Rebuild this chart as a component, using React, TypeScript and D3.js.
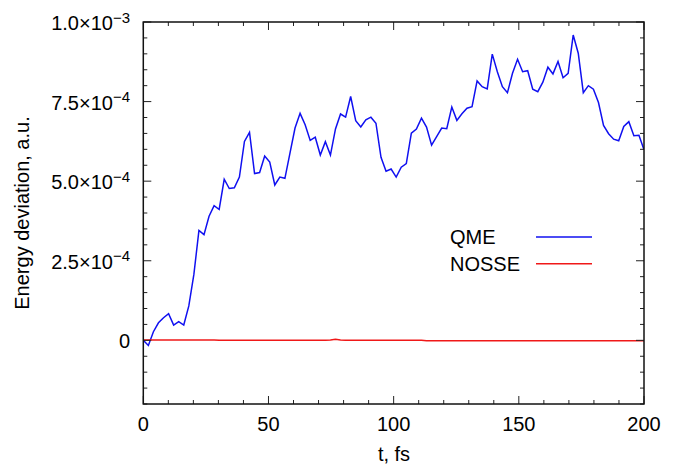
import React from "react";
import * as d3 from "d3";

// Values in units of 1e-4 a.u.
const VALUE_UNIT = 1e-4;
const T_END = 200;

const qmeValues = [
  0.0, -0.16, 0.27, 0.55, 0.71, 0.84, 0.48, 0.59, 0.48, 1.08,
  2.07, 3.45, 3.32, 3.9, 4.23, 4.11, 5.06, 4.77, 4.79, 5.13,
  6.25, 6.53, 5.24, 5.27, 5.79, 5.6, 4.88, 5.13, 5.09, 5.88,
  6.67, 7.13, 6.77, 6.28, 6.38, 5.82, 6.24, 5.82, 6.64, 7.11,
  7.01, 7.66, 6.9, 6.7, 6.93, 7.01, 6.82, 5.75, 5.31, 5.38,
  5.13, 5.44, 5.55, 6.51, 6.64, 6.98, 6.7, 6.13, 6.4, 6.67,
  6.65, 7.33, 6.91, 7.12, 7.29, 7.34, 8.15, 7.97, 7.9, 8.99,
  8.44, 7.97, 7.78, 8.39, 8.83, 8.44, 8.47, 7.89, 7.81, 8.11,
  8.58, 8.37, 8.76, 8.25, 8.39, 9.59, 9.02, 7.78, 8.0, 7.89,
  7.47, 6.75, 6.49, 6.32, 6.27, 6.72, 6.87, 6.43, 6.44, 5.99,
];

const nosseValues = [
  0.01, 0.01, 0.01, 0.01, 0.01, 0.01, 0.01, 0.01, 0.01, 0.01,
  0.01, 0.01, 0.01, 0.01, 0.01, 0.0, 0.0, 0.0, 0.0, 0.0,
  0.0, 0.0, 0.0, 0.0, 0.0, 0.0, 0.0, 0.0, 0.0, 0.0,
  0.0, 0.0, 0.0, 0.0, 0.0, 0.0, 0.0, 0.01, 0.03, 0.01,
  0.0, 0.0, 0.0, 0.0, 0.0, 0.0, 0.0, 0.0, 0.0, 0.0,
  0.0, 0.0, 0.0, 0.0, 0.0, 0.0, -0.01, -0.01, -0.01, -0.01,
  -0.01, -0.01, -0.01, -0.01, -0.01, -0.01, -0.01, -0.01, -0.01, -0.01,
  -0.01, -0.01, -0.01, -0.01, -0.01, -0.01, -0.01, -0.01, -0.01, -0.01,
  -0.01, -0.01, -0.01, -0.01, -0.01, -0.01, -0.01, -0.01, -0.01, -0.01,
  -0.01, -0.01, -0.01, -0.01, -0.01, -0.01, -0.01, -0.01, -0.01, -0.01,
];

const xMajorTicks = [0, 50, 100, 150, 200];
const xMinorStep = 10;
const yMajorTicks = [0, 2.5, 5.0, 7.5, 10.0];
const yMajorLabels = [
  { mant: "0", exp: "" },
  { mant: "2.5×10", exp: "−4" },
  { mant: "5.0×10", exp: "−4" },
  { mant: "7.5×10", exp: "−4" },
  { mant: "1.0×10", exp: "−3" },
];
const yMinorStep = 0.5;
const yDomain = [-2, 10];

const series = [
  { name: "QME", values: qmeValues, color: "#1010f0" },
  { name: "NOSSE", values: nosseValues, color: "#f01818" },
];

const W = 680;
const H = 466;
const left = 143.3;
const right = 644;
const top = 22;
const bottom = 404;
const FONT = "'Liberation Sans', Arial, Helvetica, sans-serif";
const FS = 20;

export default function App() {
  const x = d3.scaleLinear().domain([0, T_END]).range([left, right]);
  const y = d3
    .scaleLinear()
    .domain([yDomain[0] * VALUE_UNIT, yDomain[1] * VALUE_UNIT])
    .range([bottom, top]);

  const n = qmeValues.length;
  const times = qmeValues.map((_, i) => (i * T_END) / (n - 1));

  const line = d3
    .line<number>()
    .x((_, i) => x(times[i]))
    .y((v) => y(v * VALUE_UNIT));

  const xMinor = d3.range(0, T_END + 0.001, xMinorStep);
  const yMinor = d3.range(yDomain[0], yDomain[1] + 0.001, yMinorStep);
  const isXMajor = (t: number) => xMajorTicks.some((m) => Math.abs(m - t) < 1e-6);
  const isYMajor = (v: number) => yMajorTicks.some((m) => Math.abs(m - v) < 1e-6);

  const majorLen = 8;
  const minorLen = 4;
  const tickColor = "#222";

  return (
    <svg
      width={W}
      height={H}
      style={{ position: "fixed", left: 0, top: 0, background: "#fff" }}
      fontFamily={FONT}
    >
      <rect x={0} y={0} width={W} height={H} fill="#fff" />
      <defs>
        <clipPath id="plotclip">
          <rect x={left} y={top} width={right - left} height={bottom - top} />
        </clipPath>
      </defs>
      <g clipPath="url(#plotclip)">
        {series.map((s) => (
          <path
            key={s.name}
            d={line(s.values) || ""}
            fill="none"
            stroke={s.color}
            strokeWidth={1.5}
          />
        ))}
      </g>

      {xMinor.map((t) => {
        const len = isXMajor(t) ? majorLen : minorLen;
        const px = x(t);
        return (
          <g key={"xt" + t} stroke={tickColor} strokeWidth={1}>
            <line x1={px} x2={px} y1={bottom} y2={bottom - len} />
            <line x1={px} x2={px} y1={top} y2={top + len} />
          </g>
        );
      })}
      {yMinor.map((v) => {
        const len = isYMajor(v) ? majorLen : minorLen;
        const py = y(v * VALUE_UNIT);
        return (
          <g key={"yt" + v} stroke={tickColor} strokeWidth={1}>
            <line x1={left} x2={left + len} y1={py} y2={py} />
            <line x1={right} x2={right - len} y1={py} y2={py} />
          </g>
        );
      })}

      <rect
        x={left}
        y={top}
        width={right - left}
        height={bottom - top}
        fill="none"
        stroke="#111"
        strokeWidth={1.5}
      />

      {xMajorTicks.map((t) => (
        <text
          key={"xl" + t}
          x={x(t)}
          y={424}
          textAnchor="middle"
          dominantBaseline="central"
          fontSize={FS}
          fill="#000"
        >
          {t}
        </text>
      ))}

      {yMajorTicks.map((v, i) => {
        const lab = yMajorLabels[i];
        const py = y(v * VALUE_UNIT);
        return (
          <text
            key={"yl" + v}
            x={130}
            y={py + 8}
            textAnchor="end"
            fontSize={FS}
            fill="#000"
          >
            {lab.mant}
            {lab.exp ? (
              <tspan fontSize={15} dy={-7.5}>
                {lab.exp}
              </tspan>
            ) : null}
          </text>
        );
      })}

      <text
        x={394}
        y={461}
        textAnchor="middle"
        fontSize={FS}
        fill="#000"
      >
        t, fs
      </text>
      <text
        transform="translate(22,213) rotate(-90)"
        textAnchor="middle"
        dominantBaseline="central"
        fontSize={FS}
        fill="#000"
      >
        Energy deviation, a.u.
      </text>

      {series.map((s, i) => {
        const ly = 237 + i * 26.7;
        return (
          <g key={"lg" + s.name}>
            <text
              x={450}
              y={ly}
              dominantBaseline="central"
              fontSize={FS}
              fill="#000"
            >
              {s.name}
            </text>
            <line x1={536} x2={592} y1={ly} y2={ly} stroke={s.color} strokeWidth={1.5} />
          </g>
        );
      })}
    </svg>
  );
}
